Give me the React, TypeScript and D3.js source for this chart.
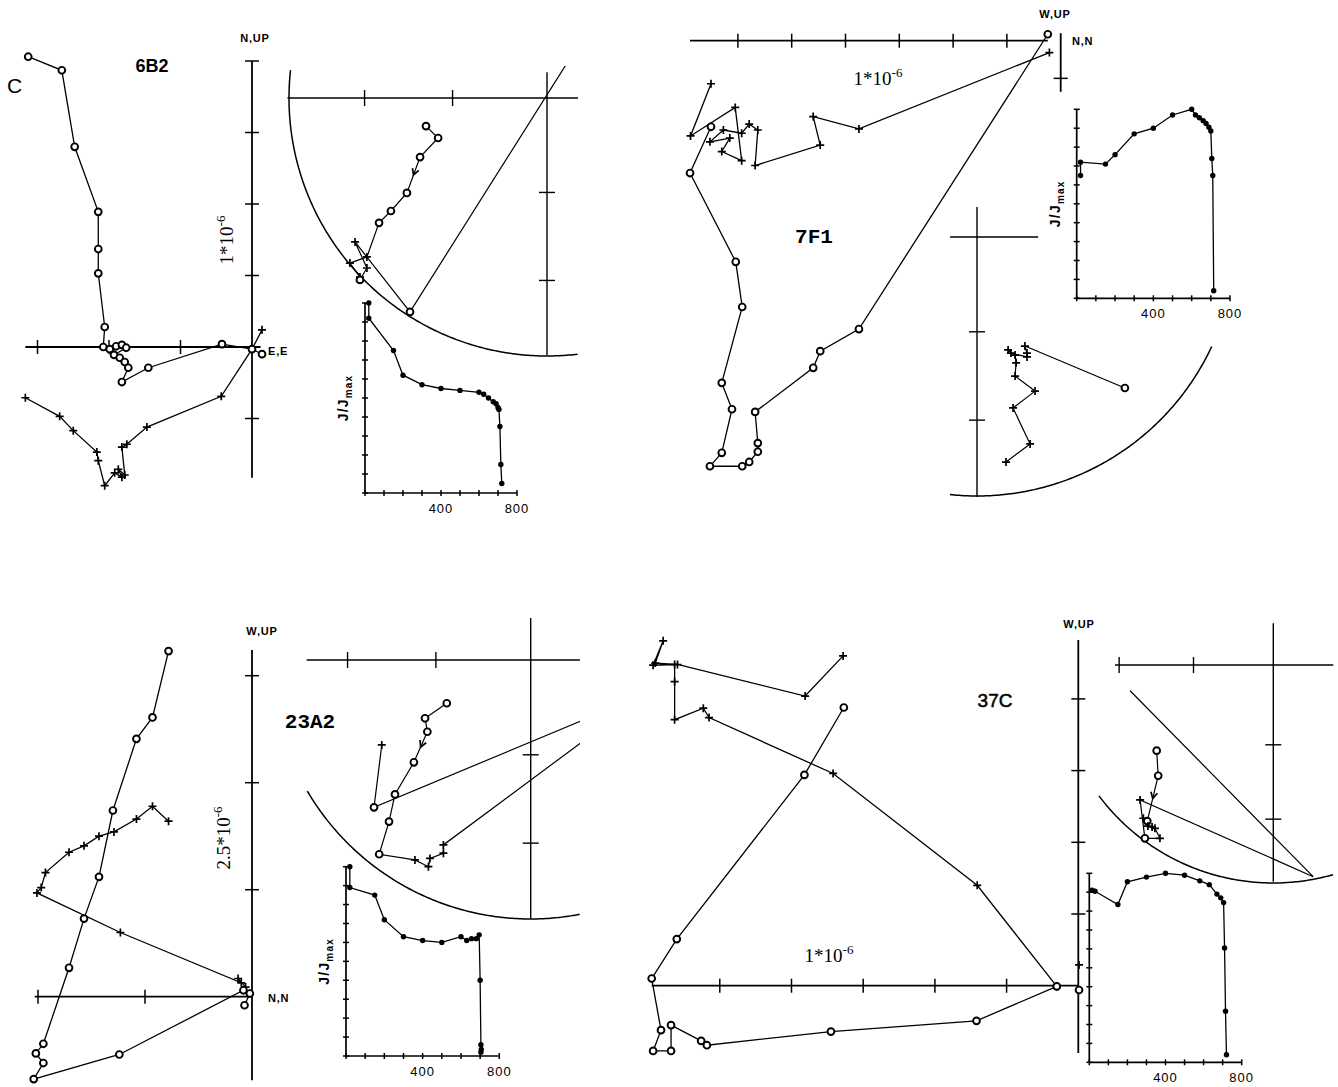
import React from 'react';
import * as d3 from 'd3';

type Pt = [number, number];
type Mark = 'o' | '+' | '';

// ---------- Orthogonal (Zijderveld) projections, in units of the scale bar ----------
// 6B2: horizontal axis E, vertical axis N / UP
const zij6B2Horizontal: Pt[] = [
  [-3.13, 4.06], [-2.66, 3.87], [-2.48, 2.8], [-2.15, 1.89], [-2.15, 1.37], [-2.15, 1.03],
  [-2.06, 0.28], [-2.08, 0.0], [-1.99, -0.03], [-1.9, 0.01], [-1.82, 0.03], [-1.76, -0.01],
  [-1.93, -0.11], [-1.85, -0.15], [-1.78, -0.21], [-1.73, -0.29], [-1.82, -0.49], [-1.45, -0.29],
  [-0.42, 0.04], [0.0, -0.03], [0.14, -0.1],
];
const zij6B2Vertical: Pt[] = [
  [-3.17, -0.71], [-2.69, -0.97], [-2.5, -1.17], [-2.17, -1.47], [-2.15, -1.59], [-2.06, -1.94],
  [-1.92, -1.76], [-1.82, -1.82], [-1.87, -1.71], [-1.78, -1.79], [-1.82, -1.4], [-1.75, -1.36],
  [-1.47, -1.12], [-0.43, -0.69], [0.0, -0.03], [0.14, 0.24],
];

// 7F1: horizontal axis N, vertical axis W / UP
const zij7F1Horizontal: Pt[] = [
  [-6.5, -1.6], [-6.89, -2.46], [-6.04, -4.11], [-5.92, -4.95], [-6.3, -6.36], [-6.11, -6.85],
  [-6.3, -7.66], [-6.52, -7.91], [-5.92, -7.91], [-5.79, -7.83], [-5.63, -7.64], [-5.63, -7.48],
  [-5.68, -6.9], [-4.6, -6.08], [-4.47, -5.77], [-3.75, -5.36], [-0.24, 0.12],
];
const zij7F1Vertical: Pt[] = [
  [-6.5, -0.8], [-6.88, -1.77], [-6.05, -1.24], [-5.93, -2.23], [-6.3, -2.06], [-6.15, -1.81],
  [-6.52, -1.88], [-6.27, -1.66], [-5.93, -1.72], [-5.79, -1.55], [-5.63, -1.66], [-5.68, -2.32],
  [-4.47, -1.94], [-4.6, -1.41], [-3.75, -1.64], [-0.21, -0.22],
];

// 23A2: horizontal axis N, vertical axis W / UP
const zij23A2Horizontal: Pt[] = [
  [-0.78, 3.23], [-0.93, 2.61], [-1.08, 2.41], [-1.3, 1.74], [-1.43, 1.12], [-1.57, 0.73],
  [-1.71, 0.27], [-1.95, -0.44], [-2.02, -0.53], [-1.95, -0.62], [-2.04, -0.77], [-1.24, -0.54],
  [-0.08, 0.06], [-0.02, 0.03], [-0.07, -0.08],
];
const zij23A2Vertical: Pt[] = [
  [-0.78, 1.64], [-0.93, 1.78], [-1.08, 1.66], [-1.29, 1.54], [-1.43, 1.5], [-1.57, 1.41],
  [-1.71, 1.35], [-1.93, 1.16], [-1.97, 1.02], [-2.01, 0.97], [-1.23, 0.6], [-0.1, 0.13],
  [-0.13, 0.17], [-0.06, 0.09],
];

// 37C: horizontal axis N, vertical axis W / UP
const zij37CHorizontal: Pt[] = [
  [-3.27, 3.88], [-3.82, 2.94], [-5.6, 0.65], [-5.95, 0.1], [-5.82, -0.62], [-5.93, -0.91],
  [-5.68, -0.91], [-5.68, -0.55], [-5.26, -0.77], [-5.18, -0.83], [-3.45, -0.64], [-1.42, -0.49],
  [-0.3, -0.01],
];
const zij37CVertical: Pt[] = [
  [-3.28, 4.6], [-3.81, 4.04], [-5.59, 4.48], [-5.9, 4.5], [-5.79, 4.81], [-5.93, 4.47],
  [-5.63, 4.48], [-5.63, 4.24], [-5.63, 3.71], [-5.23, 3.87], [-5.15, 3.74], [-3.42, 2.96],
  [-1.41, 1.4], [-0.3, -0.01],
];
const zij37CLooseHorizontal: Pt[] = [[0.01, -0.06]];
const zij37CLooseVertical: Pt[] = [[0.01, 0.29]];

// ---------- Equal-area projections (net radius = 1) ----------
const net6B2Path: Pt[] = [
  [-0.469, -0.109], [-0.422, -0.155], [-0.492, -0.229], [-0.543, -0.368], [-0.605, -0.438],
  [-0.651, -0.484], [-0.698, -0.616], [-0.764, -0.64], [-0.725, -0.694], [-0.725, -0.705],
  [-0.698, -0.659], [-0.744, -0.558], [-0.531, -0.829], [0.15, 0.25],
];
const net6B2Marks: Mark[] = ['o', 'o', 'o', 'o', 'o', 'o', '+', '+', '+', 'o', '+', '+', 'o', ''];

const net7F1Path: Pt[] = [
  [0.112, -0.869], [0.205, -0.799], [0.139, -0.66], [0.224, -0.595], [0.147, -0.537],
  [0.151, -0.486], [0.147, -0.456], [0.12, -0.436], [0.131, -0.448], [0.193, -0.463],
  [0.193, -0.448], [0.185, -0.421], [0.571, -0.583],
];
const net7F1Marks: Mark[] = ['+', '+', '+', '+', '+', '+', '+', '+', '+', '+', '+', '+', 'o'];

const net23A2Path: Pt[] = [
  [-0.324, -0.167], [-0.408, -0.225], [-0.399, -0.277], [-0.451, -0.395], [-0.524, -0.519],
  [-0.547, -0.624], [-0.585, -0.75], [-0.447, -0.772], [-0.395, -0.798], [-0.389, -0.766],
  [-0.337, -0.746], [-0.337, -0.714], [0.453, -0.127], [-0.605, -0.569], [-0.575, -0.328],
];
const net23A2Marks: Mark[] = ['o', 'o', 'o', 'o', 'o', 'o', 'o', '+', '+', '+', '+', '+', '', 'o', '+'];

const net37CPath: Pt[] = [
  [-0.535, -0.393], [-0.528, -0.508], [-0.578, -0.716], [-0.596, -0.703], [-0.575, -0.739],
  [-0.556, -0.743], [-0.543, -0.749], [-0.52, -0.795], [-0.589, -0.795], [-0.611, -0.619],
  [0.183, -0.971], [-0.657, -0.118],
];
const net37CMarks: Mark[] = ['o', 'o', 'o', '+', '+', '+', '+', '+', 'o', '+', '', ''];

const netTickInclinations = [30, 60];

// ---------- Normalised intensity decay (J/Jmax vs temperature, °C) ----------
const dec6B2Temp = [20, 20, 150, 200, 300, 400, 500, 600, 625, 650, 675, 690, 700, 705, 710, 715, 720];
const dec6B2J = [1.0, 0.92, 0.75, 0.62, 0.57, 0.55, 0.54, 0.53, 0.52, 0.5, 0.48, 0.47, 0.45, 0.44, 0.35, 0.15, 0.05];

const dec7F1Temp = [20, 20, 150, 200, 300, 400, 500, 600, 620, 640, 660, 675, 690, 700, 705, 710, 715];
const dec7F1J = [0.65, 0.72, 0.71, 0.76, 0.87, 0.9, 0.97, 1.0, 0.97, 0.955, 0.94, 0.925, 0.905, 0.885, 0.74, 0.65, 0.04];

const dec23A2Temp = [20, 20, 150, 200, 300, 400, 500, 600, 630, 655, 680, 695, 700, 704, 706, 704];
const dec23A2J = [1.0, 0.89, 0.85, 0.72, 0.63, 0.61, 0.6, 0.63, 0.61, 0.62, 0.62, 0.64, 0.4, 0.06, 0.035, 0.02];

const dec37CTemp = [15, 30, 150, 200, 300, 400, 500, 580, 630, 670, 690, 705, 710, 715, 720];
const dec37CJ = [0.91, 0.905, 0.835, 0.955, 0.98, 1.0, 0.99, 0.96, 0.94, 0.89, 0.87, 0.845, 0.605, 0.27, 0.04];

const decTempTicks = d3.range(0, 801, 100);
const decJTicks = d3.range(0, 11).map((i) => i / 10);
const decTempLabels = [400, 800];

// ---------- layout ----------
interface ZijLayout { ox: number; oy: number; unit: number; h: Pt; hTicks: number[]; v: Pt; vTicks: number[]; }
interface NetLayout { cx: number; cy: number; R: number; h: Pt; v: Pt; arc: Pt; clip?: [number, number, number, number]; arrowSeg?: number; }
interface DecLayout { x0: number; x1: number; y0: number; y1: number; label: boolean; }

const FONT_SANS = '"Liberation Sans", Arial, sans-serif';
const FONT_SERIF = '"Liberation Serif", "Times New Roman", serif';
const FONT_MONO = '"Liberation Mono", "Courier New", monospace';

function CircleMark({ x, y }: { x: number; y: number }) {
  return <circle cx={x} cy={y} r={3.4} fill="#fff" stroke="#000" strokeWidth={1.9} />;
}
function CrossMark({ x, y, s = 4 }: { x: number; y: number; s?: number }) {
  return <path d={`M${x - s},${y}H${x + s}M${x},${y - s}V${y + s}`} stroke="#000" strokeWidth={1.7} fill="none" />;
}

function Zijderveld({ L, horiz, vert, looseH = [], looseV = [] }: { L: ZijLayout; horiz: Pt[]; vert: Pt[]; looseH?: Pt[]; looseV?: Pt[] }) {
  const x = d3.scaleLinear().domain([0, 1]).range([L.ox, L.ox + L.unit]);
  const y = d3.scaleLinear().domain([0, 1]).range([L.oy, L.oy - L.unit]);
  const line = d3.line<Pt>().x((d) => x(d[0])).y((d) => y(d[1]));
  const t = 7;
  return (
    <g>
      <line x1={x(L.h[0])} x2={x(L.h[1])} y1={y(0)} y2={y(0)} stroke="#000" strokeWidth={1.8} />
      <line x1={x(0)} x2={x(0)} y1={y(L.v[0])} y2={y(L.v[1])} stroke="#000" strokeWidth={1.8} />
      {L.hTicks.map((v) => (
        <line key={'h' + v} x1={x(v)} x2={x(v)} y1={y(0) - t} y2={y(0) + t} stroke="#000" strokeWidth={1.5} />
      ))}
      {L.vTicks.map((v) => (
        <line key={'v' + v} x1={x(0) - t} x2={x(0) + t} y1={y(v)} y2={y(v)} stroke="#000" strokeWidth={1.5} />
      ))}
      <path d={line(horiz) || ''} fill="none" stroke="#000" strokeWidth={1.3} />
      <path d={line(vert) || ''} fill="none" stroke="#000" strokeWidth={1.3} />
      {vert.concat(looseV).map((d, i) => <CrossMark key={'c' + i} x={x(d[0])} y={y(d[1])} />)}
      {horiz.concat(looseH).map((d, i) => <CircleMark key={'o' + i} x={x(d[0])} y={y(d[1])} />)}
    </g>
  );
}

function Stereonet({ id, L, pts, marks }: { id: string; L: NetLayout; pts: Pt[]; marks: Mark[] }) {
  const sx = d3.scaleLinear().domain([-1, 1]).range([L.cx - L.R, L.cx + L.R]);
  const sy = d3.scaleLinear().domain([-1, 1]).range([L.cy + L.R, L.cy - L.R]);
  const line = d3.line<Pt>().x((d) => sx(d[0])).y((d) => sy(d[1]));
  const arcPts: Pt[] = d3.range(L.arc[0], L.arc[1] + 0.01, 0.5).map((a) => {
    const r = (a * Math.PI) / 180;
    return [Math.cos(r), Math.sin(r)] as Pt;
  });
  const tickR = netTickInclinations.map((inc) => Math.SQRT2 * Math.sin(((90 - inc) / 2) * (Math.PI / 180)));
  const hT = tickR.flatMap((r) => [-r, r]).filter((r) => r > L.h[0] && r < L.h[1]);
  const vT = tickR.flatMap((r) => [-r, r]).filter((r) => r > L.v[0] && r < L.v[1]);
  const t = 8;
  let arrow: string | null = null;
  if (L.arrowSeg !== undefined) {
    const a = pts[L.arrowSeg];
    const b = pts[L.arrowSeg + 1];
    const mx = (sx(a[0]) + sx(b[0])) / 2;
    const my = (sy(a[1]) + sy(b[1])) / 2;
    const ang = Math.atan2(sy(b[1]) - sy(a[1]), sx(b[0]) - sx(a[0]));
    const len = 7;
    const p1 = [mx - len * Math.cos(ang - 0.5), my - len * Math.sin(ang - 0.5)];
    const p2 = [mx - len * Math.cos(ang + 0.5), my - len * Math.sin(ang + 0.5)];
    arrow = `M${p1[0]},${p1[1]}L${mx},${my}L${p2[0]},${p2[1]}`;
  }
  const clip = L.clip;
  return (
    <g>
      {clip && (
        <defs>
          <clipPath id={id}>
            <rect x={clip[0]} y={clip[1]} width={clip[2]} height={clip[3]} />
          </clipPath>
        </defs>
      )}
      <g clipPath={clip ? `url(#${id})` : undefined}>
        <line x1={sx(L.h[0])} x2={sx(L.h[1])} y1={sy(0)} y2={sy(0)} stroke="#000" strokeWidth={1.4} />
        <line x1={sx(0)} x2={sx(0)} y1={sy(L.v[0])} y2={sy(L.v[1])} stroke="#000" strokeWidth={1.4} />
        {hT.map((r) => (
          <line key={'h' + r} x1={sx(r)} x2={sx(r)} y1={sy(0) - t} y2={sy(0) + t} stroke="#000" strokeWidth={1.4} />
        ))}
        {vT.map((r) => (
          <line key={'v' + r} x1={sx(0) - t} x2={sx(0) + t} y1={sy(r)} y2={sy(r)} stroke="#000" strokeWidth={1.4} />
        ))}
        <path d={line(arcPts) || ''} fill="none" stroke="#000" strokeWidth={1.5} />
        <path d={line(pts) || ''} fill="none" stroke="#000" strokeWidth={1.2} />
        {arrow && <path d={arrow} fill="none" stroke="#000" strokeWidth={1.7} />}
        {pts.map((d, i) =>
          marks[i] === 'o' ? (
            <CircleMark key={i} x={sx(d[0])} y={sy(d[1])} />
          ) : marks[i] === '+' ? (
            <CrossMark key={i} x={sx(d[0])} y={sy(d[1])} />
          ) : null
        )}
      </g>
    </g>
  );
}

function Decay({ L, temps, js }: { L: DecLayout; temps: number[]; js: number[] }) {
  const x = d3.scaleLinear().domain([0, 800]).range([L.x0, L.x1]);
  const y = d3.scaleLinear().domain([0, 1]).range([L.y0, L.y1]);
  const pts: Pt[] = temps.map((tv, i) => [tv, js[i]]);
  const line = d3.line<Pt>().x((d) => x(d[0])).y((d) => y(d[1]));
  const t = 3;
  return (
    <g>
      <line x1={x(0)} x2={x(800)} y1={y(0)} y2={y(0)} stroke="#000" strokeWidth={1.7} />
      <line x1={x(0)} x2={x(0)} y1={y(0)} y2={y(1)} stroke="#000" strokeWidth={1.7} />
      {decTempTicks.map((v) => (
        <line key={'x' + v} x1={x(v)} x2={x(v)} y1={y(0) - t} y2={y(0) + t} stroke="#000" strokeWidth={1.5} />
      ))}
      {decJTicks.map((v) => (
        <line key={'y' + v} x1={x(0) - t} x2={x(0) + t} y1={y(v)} y2={y(v)} stroke="#000" strokeWidth={1.5} />
      ))}
      {decTempLabels.map((v) => (
        <text key={'l' + v} x={x(v)} y={y(0) + 20} textAnchor="middle" fontFamily={FONT_SANS} fontSize={13} letterSpacing={1}>
          {v}
        </text>
      ))}
      {L.label && (
        <text
          transform={`translate(${x(0) - 17},${(y(0) + y(1)) / 2}) rotate(-90)`}
          textAnchor="middle"
          fontFamily={FONT_SANS}
          fontSize={14}
          fontWeight="bold"
          letterSpacing={1.2}
        >
          J/J<tspan fontSize={10} dy={4}>max</tspan>
        </text>
      )}
      <path d={line(pts) || ''} fill="none" stroke="#000" strokeWidth={1.3} />
      {pts.map((d, i) => (
        <circle key={i} cx={x(d[0])} cy={y(d[1])} r={2.7} fill="#000" />
      ))}
    </g>
  );
}

function AxisLabel({ x, y, text, anchor = 'middle' }: { x: number; y: number; text: string; anchor?: string }) {
  return (
    <text x={x} y={y} textAnchor={anchor as any} fontFamily={FONT_SANS} fontSize={11} fontWeight="bold" letterSpacing={0.8}>
      {text}
    </text>
  );
}

function ScaleLabel({ x, y, mant, rotate = false }: { x: number; y: number; mant: string; rotate?: boolean }) {
  return (
    <text
      transform={`translate(${x},${y})${rotate ? ' rotate(-90)' : ''}`}
      textAnchor="middle"
      fontFamily={FONT_SERIF}
      fontSize={19}
    >
      {mant}*10<tspan fontSize={13} dy={-8}>-6</tspan>
    </text>
  );
}

const layZij6B2: ZijLayout = { ox: 252, oy: 347, unit: 71.5, h: [-3.17, 0.12], hTicks: [-3, -2, -1], v: [-1.83, 4.0], vTicks: [-1, 1, 2, 3, 4] };
const layZij7F1: ZijLayout = { ox: 1060.7, oy: 40.7, unit: 53.8, h: [-6.89, -0.24], hTicks: [-6, -5, -4, -3, -2, -1], v: [-0.95, 0.14], vTicks: [-0.7] };
const layZij23A2: ZijLayout = { ox: 252, oy: 996.7, unit: 107, h: [-2.03, 0], hTicks: [-2, -1], v: [-0.78, 3.24], vTicks: [1, 2, 3] };
const layZij37C: ZijLayout = { ox: 1078.3, oy: 985.7, unit: 71.7, h: [-5.95, 0], hTicks: [-5, -4, -3, -2, -1], v: [-0.94, 4.82], vTicks: [1, 2, 3, 4] };

const layNet6B2: NetLayout = { cx: 547, cy: 98, R: 258, h: [-1.006, 0.12], v: [-0.996, 0.1], arc: [173.8, 276.9], clip: [280, 66, 300, 296], arrowSeg: 2 };
const layNet7F1: NetLayout = { cx: 977, cy: 237, R: 259, h: [-0.104, 0.236], v: [-1.004, 0.116], arc: [264, 335] };
const layNet23A2: NetLayout = { cx: 530.7, cy: 660, R: 259, h: [-0.865, 0.19], v: [-0.997, 0.162], arc: [210.4, 280.9], clip: [300, 610, 280, 315], arrowSeg: 2 };
const layNet37C: NetLayout = { cx: 1273.3, cy: 665, R: 218, h: [-0.726, 0.275], v: [-0.994, 0.191], arc: [216.9, 286.3], clip: [1090, 615, 248, 275], arrowSeg: 1 };

const layDec6B2: DecLayout = { x0: 365, x1: 517, y0: 493, y1: 303, label: true };
const layDec7F1: DecLayout = { x0: 1076.7, x1: 1230, y0: 298.3, y1: 109.3, label: true };
const layDec23A2: DecLayout = { x0: 346, x1: 499.3, y0: 1056, y1: 866.7, label: true };
const layDec37C: DecLayout = { x0: 1089.3, x1: 1241.7, y0: 1062.3, y1: 873.3, label: false };

export default function App() {
  return (
    <svg
      width={1338}
      height={1087}
      viewBox="0 0 1338 1087"
      style={{ position: 'absolute', left: 0, top: 0, background: '#fff' }}
    >
      <rect x={0} y={0} width={1338} height={1087} fill="#fff" />

      {/* 6B2 */}
      <text x={7} y={93} fontFamily={FONT_SANS} fontSize={21}>C</text>
      <text x={152} y={72} textAnchor="middle" fontFamily={FONT_SANS} fontSize={18} fontWeight="bold">6B2</text>
      <AxisLabel x={255} y={42} text="N,UP" />
      <AxisLabel x={268} y={355} text="E,E" anchor="start" />
      <ScaleLabel x={233} y={240} mant="1" rotate />
      <Zijderveld L={layZij6B2} horiz={zij6B2Horizontal} vert={zij6B2Vertical} />
      <Stereonet id="net6B2" L={layNet6B2} pts={net6B2Path} marks={net6B2Marks} />
      <Decay L={layDec6B2} temps={dec6B2Temp} js={dec6B2J} />

      {/* 7F1 */}
      <ScaleLabel x={878} y={85} mant="1" />
      <text x={814} y={243} textAnchor="middle" fontFamily={FONT_MONO} fontSize={21} fontWeight="bold">7F1</text>
      <AxisLabel x={1055} y={18} text="W,UP" />
      <AxisLabel x={1072} y={45} text="N,N" anchor="start" />
      <Zijderveld L={layZij7F1} horiz={zij7F1Horizontal} vert={zij7F1Vertical} />
      <Stereonet id="net7F1" L={layNet7F1} pts={net7F1Path} marks={net7F1Marks} />
      <Decay L={layDec7F1} temps={dec7F1Temp} js={dec7F1J} />

      {/* 23A2 */}
      <AxisLabel x={262} y={635} text="W,UP" />
      <AxisLabel x={268} y={1002} text="N,N" anchor="start" />
      <ScaleLabel x={230} y={838} mant="2.5" rotate />
      <text x={310} y={728} textAnchor="middle" fontFamily={FONT_MONO} fontSize={21} fontWeight="bold">23A2</text>
      <Zijderveld L={layZij23A2} horiz={zij23A2Horizontal} vert={zij23A2Vertical} />
      <Stereonet id="net23A2" L={layNet23A2} pts={net23A2Path} marks={net23A2Marks} />
      <Decay L={layDec23A2} temps={dec23A2Temp} js={dec23A2J} />

      {/* 37C */}
      <AxisLabel x={1079} y={628} text="W,UP" />
      <ScaleLabel x={829} y={962} mant="1" />
      <text x={995} y={707} textAnchor="middle" fontFamily={FONT_SANS} fontSize={19} stroke="#000" strokeWidth={0.5}>37C</text>
      <Zijderveld
        L={layZij37C}
        horiz={zij37CHorizontal}
        vert={zij37CVertical}
        looseH={zij37CLooseHorizontal}
        looseV={zij37CLooseVertical}
      />
      <Stereonet id="net37C" L={layNet37C} pts={net37CPath} marks={net37CMarks} />
      <Decay L={layDec37C} temps={dec37CTemp} js={dec37CJ} />
    </svg>
  );
}
